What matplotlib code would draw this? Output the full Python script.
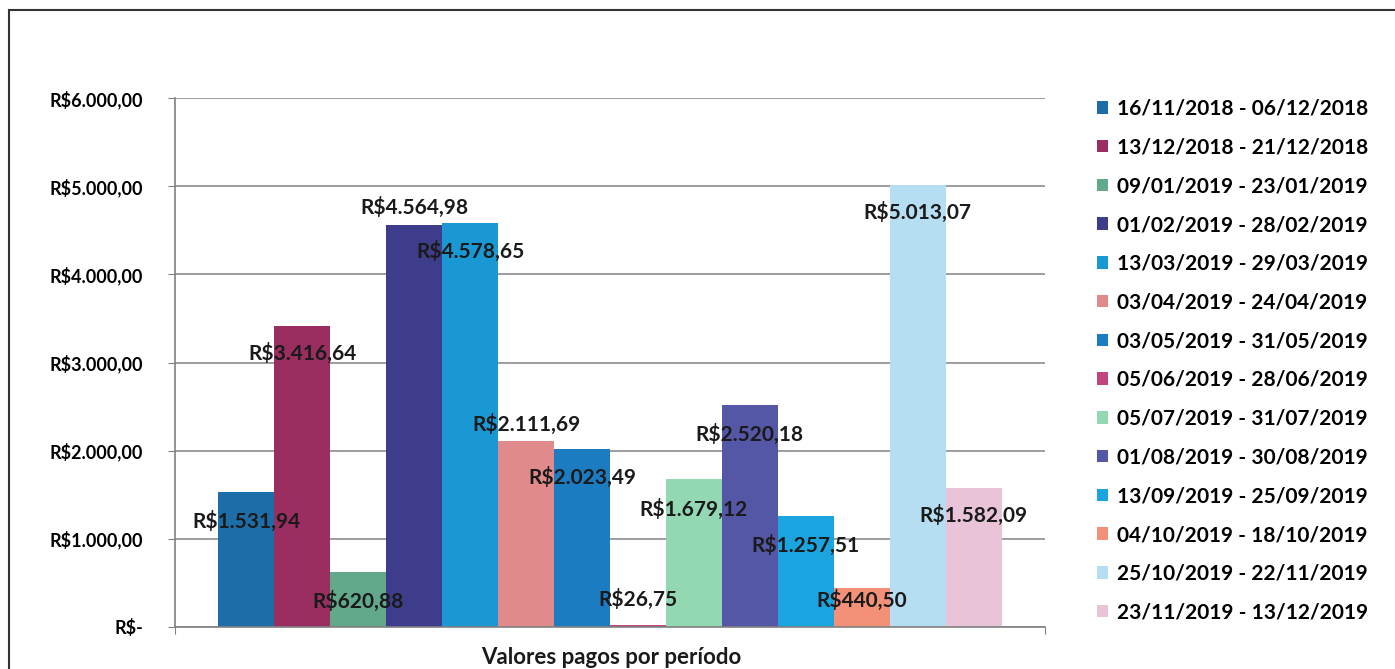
import matplotlib.pyplot as plt
from matplotlib.patches import Rectangle, Patch

periods = ['16/11/2018 - 06/12/2018', '13/12/2018 - 21/12/2018', '09/01/2019 - 23/01/2019',
           '01/02/2019 - 28/02/2019', '13/03/2019 - 29/03/2019', '03/04/2019 - 24/04/2019',
           '03/05/2019 - 31/05/2019', '05/06/2019 - 28/06/2019', '05/07/2019 - 31/07/2019',
           '01/08/2019 - 30/08/2019', '13/09/2019 - 25/09/2019', '04/10/2019 - 18/10/2019',
           '25/10/2019 - 22/11/2019', '23/11/2019 - 13/12/2019']
values = [1531.94, 3416.64, 620.88, 4564.98, 4578.65, 2111.69, 2023.49,
          26.75, 1679.12, 2520.18, 1257.51, 440.50, 5013.07, 1582.09]
colors = ['#1d6ea8', '#9a2e61', '#62a98c', '#3e3d8b', '#1a98d4', '#e08a8c', '#1b7cc2',
          '#c0457f', '#93d8b3', '#5457a6', '#1ba5e0', '#f29078', '#b6def3', '#e9c4d9']
# label offset below the bar top, in points (negative = above the bar)
label_dy = [21, 20, 21, -12, 20, -12, 21, -18, 22, 21, 21, 9, 20, 20]

def brl(v):
    s = f'{v:,.2f}'.replace(',', 'X').replace('.', ',').replace('X', '.')
    return 'R$' + s

plt.rcParams['font.family'] = ['Lato', 'DejaVu Sans']
fig = plt.figure(figsize=(13.95, 6.69), dpi=100)
ax = fig.add_axes([175/1395, 1-627/669, 870/1395, 529/669])

w = 0.9 / len(values)
start = 0.5 - w * len(values) / 2
for i, (v, c) in enumerate(zip(values, colors)):
    x = start + w * (i + 0.5)
    ax.bar(x, v, width=w, color=c, zorder=2)
    ax.annotate(brl(v), (x, v), xytext=(0, -label_dy[i]), textcoords='offset points',
                ha='center', va='center', fontsize=15, fontweight='bold', color='#1a1a1a', zorder=3)

ax.set_xlim(0, 1)
ax.set_ylim(0, 6000)
ax.set_yticks(range(0, 6001, 1000))
ax.set_yticklabels(['R$-'] + [brl(v) for v in range(1000, 6001, 1000)],
                   fontsize=13, fontweight='bold')
ax.set_xticks([0, 1])
ax.set_xticklabels(['', ''])
ax.tick_params(axis='y', length=5, color='#808080', pad=18)
ax.tick_params(axis='x', length=5, color='#808080', direction='out')
ax.grid(axis='y', color='#8c8c8c', linewidth=1.2, zorder=0)
for s in ['top', 'right']:
    ax.spines[s].set_visible(False)
ax.spines['left'].set_color('#808080')
ax.spines['bottom'].set_color('#808080')
ax.spines['left'].set_linewidth(1.2)
ax.spines['bottom'].set_linewidth(1.2)
fig.text(611/1395, 1-657/669, 'Valores pagos por período', fontsize=16, fontweight='bold',
         ha='center', va='center', color='#1a1a1a')

handles = [Patch(facecolor=c, edgecolor='none') for c in colors]
fig.legend(handles, periods, loc='upper left', bbox_to_anchor=(1078/1395, 1-80/669),
           frameon=False, prop={'size': 15, 'weight': 'bold'}, handlelength=0.55,
           handleheight=0.55, handletextpad=0.4, labelspacing=0.9)

# outer chart frame (left and top edges visible in the scan)
fig.patches.append(Rectangle((9/1395, -0.05), 1.1, 1-10/669+0.05, transform=fig.transFigure,
                             fill=False, edgecolor='#333333', linewidth=1.5))

fig.savefig('out.png', dpi=100)
